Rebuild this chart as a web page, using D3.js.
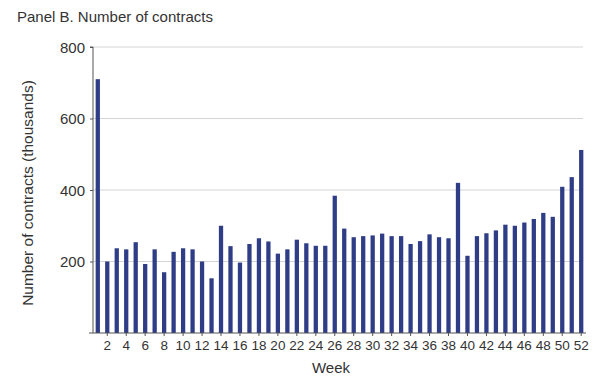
<!DOCTYPE html>
<html><head><meta charset="utf-8">
<script src="https://cdn.jsdelivr.net/npm/d3@7"></script>
<style>body{margin:0;background:#fff;} text{font-family:"Liberation Sans",Arial,sans-serif;fill:#333;}</style>
</head><body>
<svg id="c" width="600" height="383"></svg>
<script>
const weeks = d3.range(1, 53);
const contracts = [710,200,237,234,254,193,234,170,227,237,234,200,153,300,243,197,249,265,256,222,
  234,261,251,244,244,384,292,268,271,273,278,271,271,249,257,276,268,265,420,216,
  271,279,287,303,300,309,319,336,325,409,436,512];
const yTicks = [200,400,600,800];
const xTickLabels = weeks.filter(w => w % 2 === 0);

const svg = d3.select("#c");
const L = 93, R = 586, T = 47, B = 333;
const x = d3.scaleBand().domain(weeks).range([L, R]).paddingInner(0.55).paddingOuter(0.28);
const y = d3.scaleLinear().domain([0, 800]).range([B, T]);

// gridlines
svg.append("g").selectAll("line").data(yTicks).join("line")
  .attr("x1", L).attr("x2", 583).attr("y1", d => y(d)).attr("y2", d => y(d))
  .attr("stroke", "#d4d4d4").attr("stroke-width", 1);

// bars
svg.append("g").selectAll("rect").data(weeks).join("rect")
  .attr("x", d => x(d)).attr("width", x.bandwidth())
  .attr("y", (d,i) => y(contracts[i])).attr("height", (d,i) => B - y(contracts[i]))
  .attr("fill", "#2e3d86");

// y axis
const ya = svg.append("g").attr("transform", `translate(${L},0)`)
  .call(d3.axisLeft(y).tickValues(yTicks).tickSize(3).tickPadding(5));
ya.select(".domain").attr("stroke", "#555").attr("d", `M-3,${T}H0V${B}`);
ya.selectAll(".tick line").attr("stroke", "#555");
ya.selectAll("text").style("font-size", "15px").attr("fill", "#333").attr("dy", "0.35em");

// x axis
const xa = svg.append("g").attr("transform", `translate(0,${B})`)
  .call(d3.axisBottom(x).tickValues(xTickLabels).tickSize(3).tickPadding(4));
xa.select(".domain").attr("stroke", "#555").attr("d", `M${L-4},0H${R}`);
xa.selectAll(".tick line").attr("stroke", "#555");
xa.selectAll("text").style("font-size", "13.5px").attr("fill", "#333");

// titles
svg.append("text").attr("x", 17).attr("y", 22).style("font-size", "15px").text("Panel B. Number of contracts");
svg.append("text").attr("x", 331).attr("y", 373).attr("text-anchor", "middle").style("font-size", "15px").text("Week");
svg.append("text").attr("transform", "translate(33,193) rotate(-90)").attr("text-anchor", "middle")
  .style("font-size", "15.5px").text("Number of contracts (thousands)");
</script>
</body></html>
